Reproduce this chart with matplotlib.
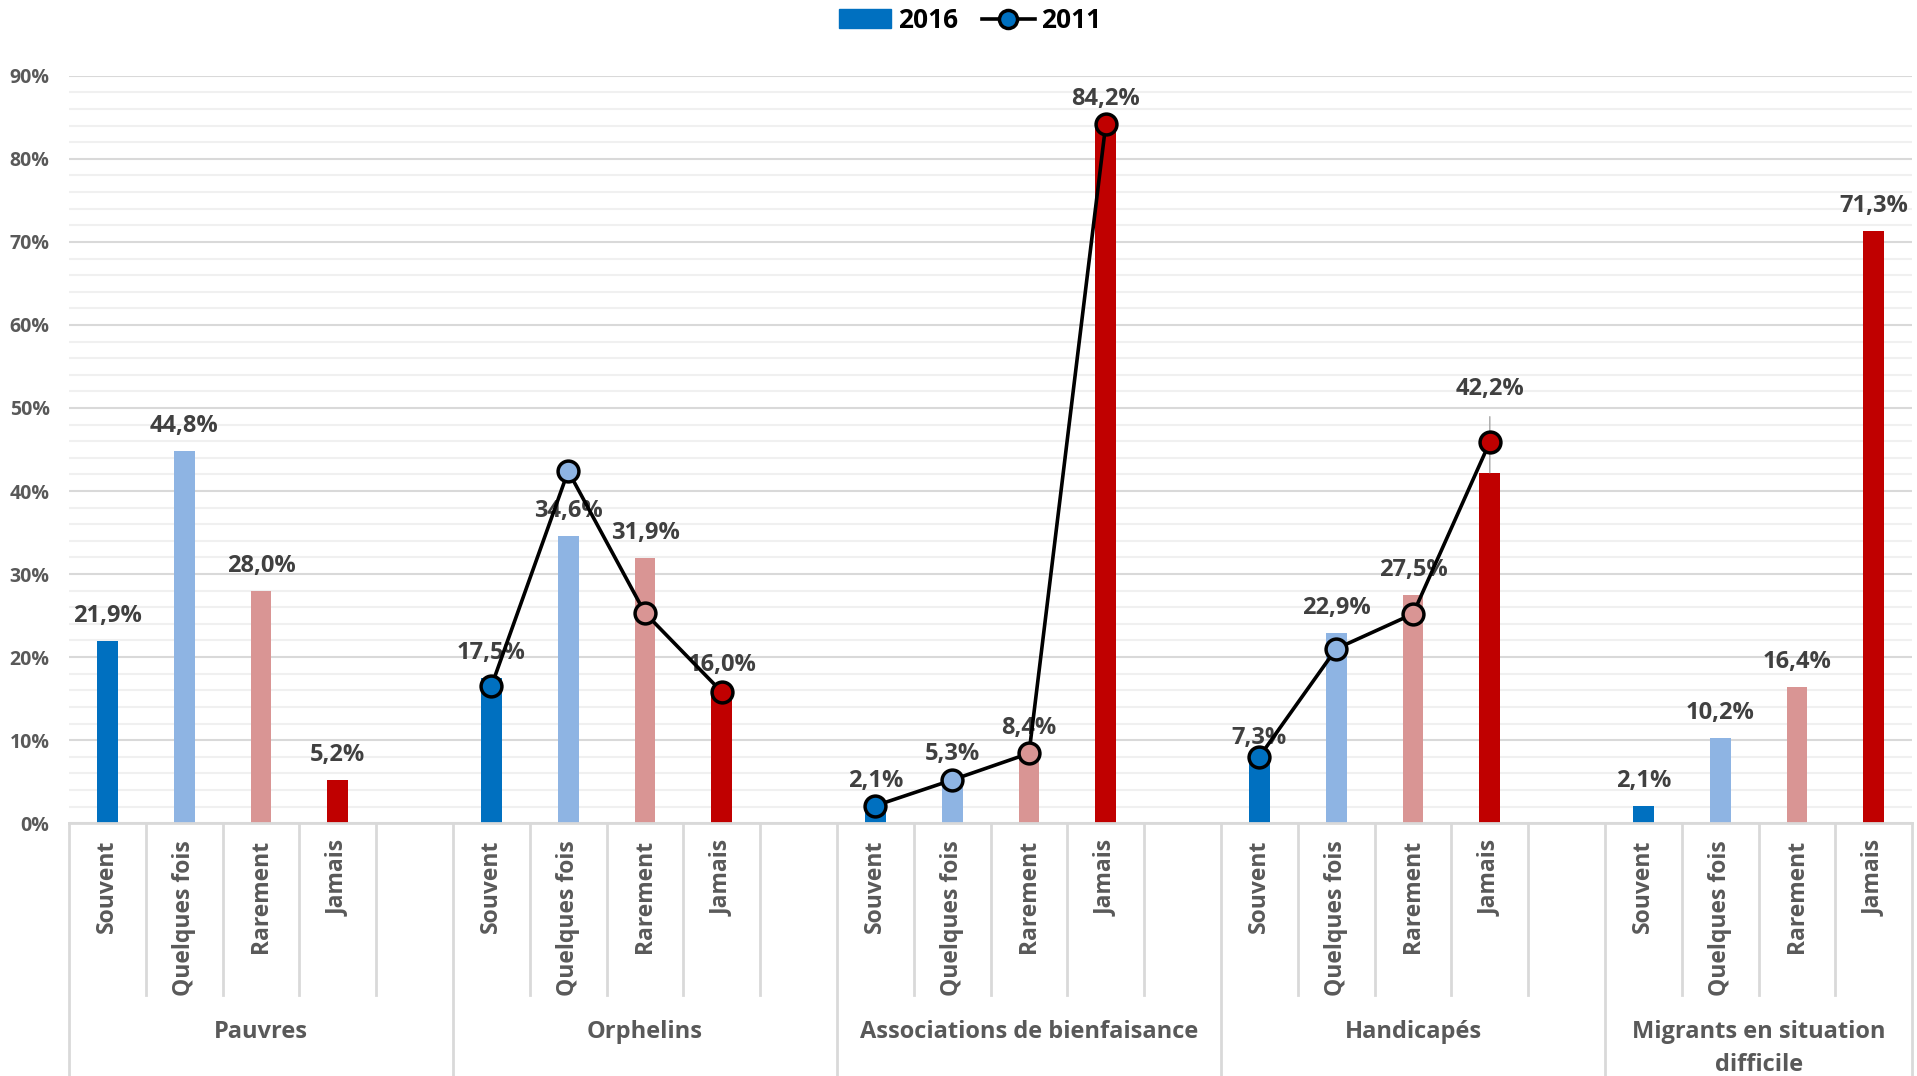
import matplotlib
matplotlib.use("Agg")
import matplotlib.pyplot as plt
from matplotlib.patches import Patch
from matplotlib.lines import Line2D
import numpy as np

plt.rcParams['font.family'] = ['Open Sans', 'DejaVu Sans']

# data
groups = ["Pauvres", "Orphelins", "Associations de bienfaisance",
          "Handicapés", "Migrants en situation\ndifficile"]
categories = ["Souvent", "Quelques fois", "Rarement", "Jamais"]

pauvres_2016 = [21.9, 44.8, 28.0, 5.2]
orphelins_2016 = [17.5, 34.6, 31.9, 16.0]
associations_2016 = [2.1, 5.3, 8.4, 84.2]
handicapes_2016 = [7.3, 22.9, 27.5, 42.2]
migrants_2016 = [2.1, 10.2, 16.4, 71.3]

pauvres_2011 = None
orphelins_2011 = [16.5, 42.4, 25.3, 15.8]
associations_2011 = [2.1, 5.2, 8.4, 84.2]
handicapes_2011 = [8.0, 21.0, 25.2, 45.9]
migrants_2011 = None

values_2016 = [pauvres_2016, orphelins_2016, associations_2016, handicapes_2016, migrants_2016]
values_2011 = [pauvres_2011, orphelins_2011, associations_2011, handicapes_2011, migrants_2011]

cat_colors = ["#0070C0", "#8EB4E3", "#D99594", "#C00000"]
grey_txt = "#595959"
label_txt = "#404040"
sep_col = "#d9d9d9"

fig = plt.figure(figsize=(19.17, 10.76), dpi=100)
ax = fig.add_axes([0.036, 0.235, 0.9615, 0.6945])

slot = 5  # 4 categories + a blank slot per group
tick_pos, tick_lab = [], []
for g, vals in enumerate(values_2016):
    xs = [g * slot + k for k in range(4)]
    for k, (x, v) in enumerate(zip(xs, vals)):
        ax.bar(x, v, width=0.27, color=cat_colors[k], zorder=2)
        txt = f"{v:.1f}%".replace(".", ",")
        if g == 3 and k == 3:
            ax.annotate(txt, (x, v), xytext=(0, 60), textcoords="offset points",
                        ha="center", va="center", fontsize=17, fontweight="bold",
                        color=label_txt, zorder=2.5,
                        arrowprops=dict(arrowstyle="-", color="#a6a6a6", lw=1,
                                        shrinkA=9, shrinkB=0))
        else:
            ax.annotate(txt, (x, v), xytext=(0, 18), textcoords="offset points",
                        ha="center", va="center", fontsize=17, fontweight="bold",
                        color=label_txt, zorder=2.5)
    tick_pos += xs
    tick_lab += categories

    line = values_2011[g]
    if line is not None:
        ax.plot(xs, line, color="black", lw=2.6, zorder=3)
        for k, (x, v) in enumerate(zip(xs, line)):
            ax.plot(x, v, "o", ms=15, mfc=cat_colors[k], mec="black", mew=2.5, zorder=4)

ax.set_xlim(-0.5, 23.5)
ax.set_ylim(0, 90)
ax.set_yticks(range(0, 91, 10))
ax.set_yticks(range(0, 91, 2), minor=True)
ax.set_yticklabels([f"{t}%" for t in range(0, 91, 10)], fontsize=14,
                   fontweight="bold", color=grey_txt)
ax.grid(axis="y", which="major", color="#d9d9d9", lw=1.5, zorder=0)
ax.grid(axis="y", which="minor", color="#f0f0f0", lw=1.5, zorder=0)
ax.set_axisbelow(True)
ax.tick_params(axis="y", which="both", length=0, pad=14)

ax.set_xticks(tick_pos)
ax.set_xticklabels(tick_lab, rotation=90, fontsize=16.5, fontweight="bold", color=grey_txt)
ax.tick_params(axis="x", length=0, pad=12)

for s in ["top", "right", "left"]:
    ax.spines[s].set_visible(False)
ax.spines["bottom"].set_color(sep_col)
ax.spines["bottom"].set_linewidth(2)

# separators under the axis
trans = ax.get_xaxis_transform()
group_bounds = [-0.5, 4.5, 9.5, 14.5, 19.5, 23.5]
for b in np.arange(-0.5, 24, 1):
    bottom = -0.34 if b in group_bounds else -0.23
    ax.plot([b, b], [0, bottom], transform=trans, color=sep_col, lw=2, clip_on=False)

for g, name in enumerate(groups):
    center = (group_bounds[g] + group_bounds[g + 1]) / 2
    ax.text(center, -0.264, name, transform=trans, ha="center", va="top",
            fontsize=17, fontweight="bold", color=grey_txt, linespacing=1.45)

handles = [Patch(color="#0070C0", label="2016"),
           Line2D([], [], color="black", lw=2.6, marker="o", ms=13,
                  mfc="#0070C0", mec="black", mew=2.5, label="2011")]
fig.legend(handles=handles, loc="center", bbox_to_anchor=(0.506, 0.981), ncol=2,
           frameon=False, prop={"weight": "bold", "size": 19},
           handlelength=2.0, handletextpad=0.25, columnspacing=0.9)

fig.savefig("out.png", dpi=100)
